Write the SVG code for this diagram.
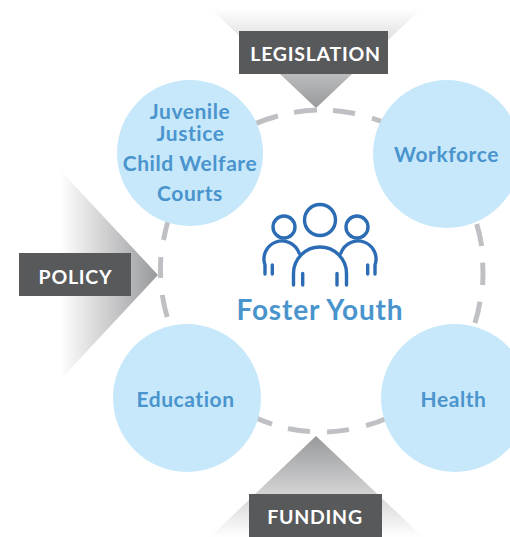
<svg xmlns="http://www.w3.org/2000/svg" width="510" height="537" viewBox="0 0 510 537">
<style>
.c{fill:#c7e8fa}
.b{fill:#58595b}
.bt{font:700 19.500px "Lato",sans-serif;fill:#fff;text-anchor:middle;letter-spacing:.75px}
.t{font:700 21px "Lato",sans-serif;fill:#4a94cd;text-anchor:middle;letter-spacing:.55px}
.i{fill:none;stroke:#2b6cb4;stroke-width:3.4;stroke-linecap:round}
</style>
<defs>
<linearGradient id="gv" x1="0" y1="0" x2="0" y2="1"><stop offset="0" stop-color="#fff"/><stop offset="1" stop-color="#98999b"/></linearGradient>
<linearGradient id="gu" x1="0" y1="1" x2="0" y2="0"><stop offset="0" stop-color="#fff"/><stop offset="1" stop-color="#98999b"/></linearGradient>
<linearGradient id="gh" x1="0" y1="0" x2="1" y2="0"><stop offset="0" stop-color="#fff"/><stop offset="1" stop-color="#98999b"/></linearGradient>
</defs>
<g id="connectors">
<path fill="url(#gv)" d="M211 9H421L316 108Z"/>
<path fill="url(#gh)" d="M60 170V380L158 275Z"/>
<path fill="url(#gu)" d="M210 537H423L316 436Z"/>
<path fill="none" stroke="#bfc0c4" stroke-width="5" d="M250 126A161 161 0 0 1 278 116M294 112.400A161 161 0 0 1 317 110.100M333 110.400A161 161 0 0 1 355 113.500M372 118.100A161 161 0 0 1 390 125M476.700 224A161 161 0 0 1 481.700 246M482.600 262.700A161 161 0 0 1 482.600 285M480 301.700A161 161 0 0 1 475 323M390 417A161 161 0 0 1 366 425.700M349 429.600A161 161 0 0 1 327 431.900M310 431.600A161 161 0 0 1 288 428.500M272 424.200A161 161 0 0 1 250 415M167.200 317A161 161 0 0 1 162.300 295M160.700 278A161 161 0 0 1 160.900 257M163.500 240A161 161 0 0 1 170 215"/>
</g>
<g id="node-juvenile"><circle class="c" cx="190" cy="153" r="73"/>
<text class="t" x="190" y="119">Juvenile</text><text class="t" x="190.500" y="141">Justice</text><text class="t" x="190" y="171">Child Welfare</text><text class="t" x="190" y="201">Courts</text></g>
<g id="node-workforce"><circle class="c" cx="447" cy="154" r="74"/><text class="t" x="446.500" y="162">Workforce</text></g>
<g id="node-education"><circle class="c" cx="187" cy="398" r="74"/><text class="t" x="185.500" y="407">Education</text></g>
<g id="node-health"><circle class="c" cx="455" cy="398" r="74"/><text class="t" x="453.500" y="407">Health</text></g>
<g id="node-legislation"><rect class="b" x="239" y="31" width="149" height="43"/><text class="bt" x="315.500" y="61">LEGISLATION</text></g>
<g id="node-policy"><rect class="b" x="19" y="253" width="112" height="43"/><text class="bt" x="75.500" y="284">POLICY</text></g>
<g id="node-funding"><rect class="b" x="249" y="494" width="133" height="43"/><text class="bt" x="315" y="523.500">FUNDING</text></g>
<g id="node-foster-youth">
<circle class="i" cx="320" cy="220" r="15.500"/><circle class="i" cx="284" cy="227" r="11"/><circle class="i" cx="357" cy="227" r="11"/>
<path class="i" d="M293.500 285V273.500A26.500 26.500 0 0 1 346.500 273.500V285M302.700 273.500V285M337 273.500V285M265 274V265A18 18 0 0 1 299 253M272.300 265V274M375 274V265A18 18 0 0 0 341 253M367.700 265V274"/>
<text x="320" y="320" text-anchor="middle" style="font:700 28px 'Lato',sans-serif;fill:#4a94cd;letter-spacing:.85px">Foster Youth</text>
</g>
</svg>
